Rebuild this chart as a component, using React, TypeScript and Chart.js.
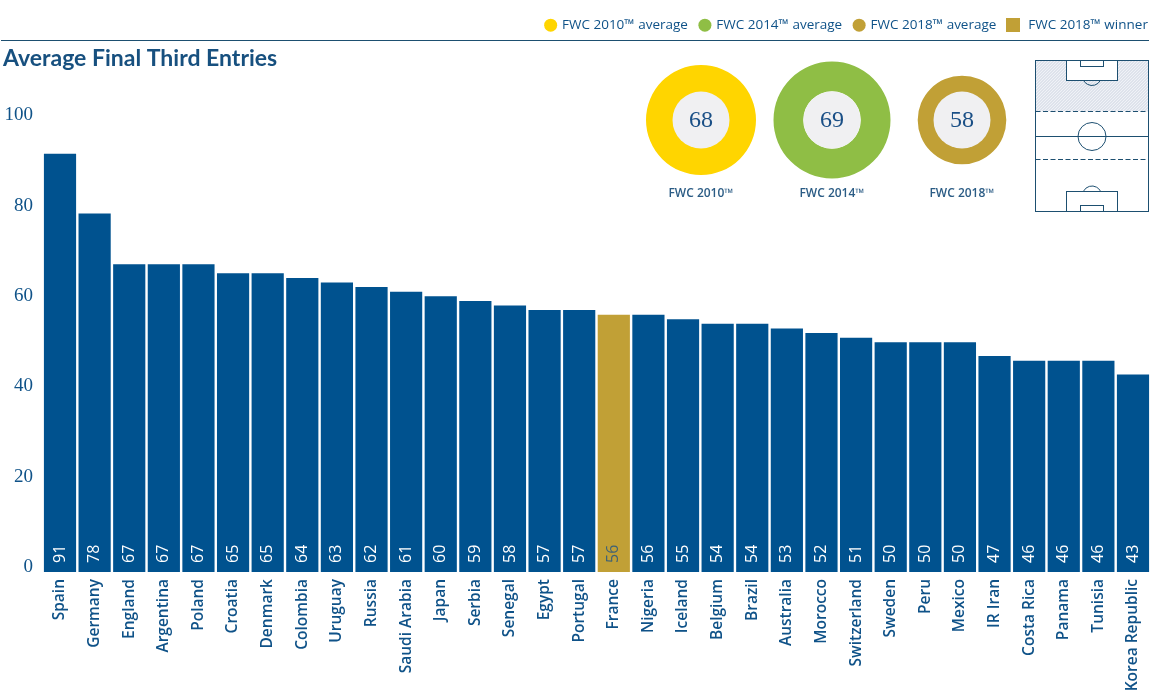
import React, { useEffect, useRef } from 'react';
import Chart from 'chart.js/auto';

const teams = ['Spain', 'Germany', 'England', 'Argentina', 'Poland', 'Croatia', 'Denmark', 'Colombia', 'Uruguay', 'Russia', 'Saudi Arabia', 'Japan', 'Serbia', 'Senegal', 'Egypt', 'Portugal', 'France', 'Nigeria', 'Iceland', 'Belgium', 'Brazil', 'Australia', 'Morocco', 'Switzerland', 'Sweden', 'Peru', 'Mexico', 'IR Iran', 'Costa Rica', 'Panama', 'Tunisia', 'Korea Republic'];
const entries = [91, 78, 67, 67, 67, 65, 65, 64, 63, 62, 61, 60, 59, 58, 57, 57, 56, 56, 55, 54, 54, 53, 52, 51, 50, 50, 50, 47, 46, 46, 46, 43];
const yTicks = [0, 20, 40, 60, 80, 100];
const winner = 'France';

const averageNames = ['FWC 2010™', 'FWC 2014™', 'FWC 2018™'];
const averageValues = [68, 69, 58];
const averageColors = ['#ffd500', '#8fbe45', '#c1a036'];
const ringCenters = [701, 831.5, 962.3];
const ringRadius = [55, 58.5, 44.3];

// the nbsp keeps the wider gap after the square marker
const legendNames = ['FWC 2010™ average', 'FWC 2014™ average', 'FWC 2018™ average', '\u00A0FWC 2018™ winner'];
const legendColors = ['#ffd500', '#8fbe45', '#c1a036', '#c1a036'];

const BLUE = '#00528f';
const GOLD = '#c1a036';
const TEXT = '#0f5288';
const LINE = '#1d4f70';
const SANS = '"Open Sans", sans-serif';
const SERIF = '"Liberation Serif", serif';

function squareMarker(color: string) {
  const c = document.createElement('canvas');
  c.width = 14;
  c.height = 14;
  const g = c.getContext('2d')!;
  g.fillStyle = color;
  g.fillRect(0, 0, 14, 14);
  return c;
}

// header rule, in-bar values and the little pitch
const decorations = {
  id: 'decorations',
  afterLayout(chart: any) {
    // nudge legend and title to where the original has them,
    // the extra pixel stops the last legend item from wrapping
    chart.legend.right += 11;
    chart.legend.lineWidths[0] += 1;
    chart.titleBlock.left += 3;
    chart.titleBlock.right += 3;
  },
  beforeDraw(chart: any) {
    const { ctx } = chart;
    ctx.save();
    ctx.strokeStyle = LINE;
    ctx.lineWidth = 1;
    ctx.beginPath();
    ctx.moveTo(1, 40.5);
    ctx.lineTo(1149, 40.5);
    ctx.stroke();
    ctx.restore();
  },
  afterDatasetsDraw(chart: any) {
    const { ctx } = chart;
    const meta = chart.getDatasetMeta(0);
    ctx.save();
    ctx.font = `500 16px ${SANS}`;
    ctx.textAlign = 'left';
    ctx.textBaseline = 'middle';
    meta.data.forEach((bar: any, i: number) => {
      ctx.save();
      ctx.translate(bar.x, chart.scales.y.getPixelForValue(0) - 9);
      ctx.rotate(-Math.PI / 2);
      ctx.fillStyle = teams[i] === winner ? '#3f6275' : '#ffffff';
      ctx.fillText(String(entries[i]), 0, 0);
      ctx.restore();
    });
    ctx.restore();
    drawPitch(ctx);
  },
};

function drawPitch(ctx: CanvasRenderingContext2D) {
  const l = 1035.5, r = 1148.5, t = 60.5, b = 211.5, mid = 1092;
  ctx.save();
  // hatched attacking third
  ctx.save();
  ctx.beginPath();
  ctx.rect(l, t, r - l, 111.5 - t);
  ctx.clip();
  ctx.fillStyle = '#f0f2f7';
  ctx.fillRect(l, t, r - l, 111.5 - t);
  ctx.strokeStyle = '#c3ccd9';
  ctx.lineWidth = 0.8;
  for (let x = l - 60; x < r + 60; x += 3) {
    ctx.beginPath();
    ctx.moveTo(x, 112);
    ctx.lineTo(x + 52, 60);
    ctx.stroke();
  }
  ctx.restore();
  ctx.strokeStyle = LINE;
  ctx.lineWidth = 1;
  ctx.fillStyle = '#ffffff';
  ctx.fillRect(1066.5, t, 51, 20);
  ctx.strokeRect(l, t, r - l, b - t);
  ctx.strokeRect(1066.5, t, 51, 20);
  ctx.strokeRect(1080.5, t, 23, 6);
  ctx.strokeRect(1066.5, 191.5, 51, 20);
  ctx.strokeRect(1080.5, 205.5, 23, 6);
  ctx.beginPath();
  ctx.moveTo(l, 136.5);
  ctx.lineTo(r, 136.5);
  ctx.stroke();
  ctx.beginPath();
  ctx.arc(mid, 136.5, 14, 0, Math.PI * 2);
  ctx.stroke();
  ctx.beginPath();
  ctx.arc(mid, 76, 9.5, 0.5, Math.PI - 0.5);
  ctx.stroke();
  ctx.beginPath();
  ctx.arc(mid, 195.5, 9.5, Math.PI + 0.5, -0.5);
  ctx.stroke();
  ctx.setLineDash([5, 2.5]);
  [111.5, 159.5].forEach((y) => {
    ctx.beginPath();
    ctx.moveTo(l, y);
    ctx.lineTo(r, y);
    ctx.stroke();
  });
  ctx.restore();
}

// gray disc, value and caption of each ring
const ringText = {
  id: 'ringText',
  afterDraw(chart: any, _args: any, opts: any) {
    const { ctx, chartArea } = chart;
    const cx = (chartArea.left + chartArea.right) / 2;
    const cy = (chartArea.top + chartArea.bottom) / 2;
    ctx.save();
    ctx.fillStyle = '#f0f0f2';
    ctx.beginPath();
    ctx.arc(cx, cy, 28.5, 0, Math.PI * 2);
    ctx.fill();
    ctx.fillStyle = '#1a4f86';
    ctx.font = `24px ${SERIF}`;
    ctx.textAlign = 'center';
    ctx.textBaseline = 'middle';
    ctx.fillText(String(opts.value), cx, cy + 1);
    ctx.font = `600 12px ${SANS}`;
    ctx.fillStyle = '#2b5c85';
    ctx.fillText(opts.name, cx, cy + 74);
    ctx.restore();
  },
};

function Ring({ index }: { index: number }) {
  const ref = useRef<HTMLCanvasElement>(null);

  useEffect(() => {
    if (!ref.current) return;
    const chart = new Chart(ref.current, {
      type: 'doughnut',
      data: {
        labels: [averageNames[index]],
        datasets: [{
          data: [averageValues[index]],
          backgroundColor: averageColors[index],
          borderWidth: 0,
          radius: ringRadius[index],
          cutout: 32,
        }],
      },
      options: {
        responsive: false,
        animation: false,
        layout: { padding: { bottom: 20 } },
        plugins: {
          legend: { display: false },
          tooltip: { enabled: false },
          ringText: { value: averageValues[index], name: averageNames[index] },
        },
      } as any,
      plugins: [ringText],
    });
    return () => chart.destroy();
  }, [index]);

  return (
    <canvas
      ref={ref}
      width={130}
      height={150}
      style={{ position: 'absolute', left: ringCenters[index] - 65, top: 55, width: 130, height: 150 }}
    />
  );
}

export default function App() {
  const ref = useRef<HTMLCanvasElement>(null);

  useEffect(() => {
    document.body.style.margin = '0';
    if (!ref.current) return;
    const chart = new Chart(ref.current, {
      type: 'bar',
      data: {
        labels: teams,
        datasets: [{
          data: entries,
          backgroundColor: teams.map((t) => (t === winner ? GOLD : BLUE)),
          barPercentage: 0.93,
          categoryPercentage: 1,
          yAxisID: 'y',
        }],
      },
      options: {
        responsive: false,
        animation: false,
        layout: { padding: { top: 6, right: 0.7 } },
        scales: {
          x: {
            grid: { display: false, drawTicks: false },
            border: { display: false },
            afterFit: (s: any) => {
              s.height = 128;
              s.paddingLeft = 0;
              s.paddingRight = 0;
            },
            ticks: {
              autoSkip: false,
              minRotation: 90,
              maxRotation: 90,
              padding: 7,
              color: TEXT,
              font: { family: SANS, size: 15.5, weight: '600' },
            },
          },
          y: { display: false, min: 0, max: 100 },
          // tick labels sit a little off the bars' scale in the original
          yLabels: {
            position: 'left',
            min: -1.106,
            max: 100.66,
            grid: { display: false, drawTicks: false },
            border: { display: false },
            afterBuildTicks: (s: any) => { s.ticks = yTicks.map((value) => ({ value })); },
            afterFit: (s: any) => { s.width = 42.7; },
            ticks: {
              padding: 9.7,
              color: TEXT,
              font: { family: SERIF, size: 19 },
            },
          },
        },
        plugins: {
          tooltip: { enabled: false },
          title: {
            display: true,
            text: 'Average Final Third Entries',
            align: 'start',
            color: '#17507f',
            weight: 500,
            font: { family: '"Lato", sans-serif', size: 23, weight: '700' },
            padding: { top: 3, bottom: 40 },
          },
          legend: {
            position: 'top',
            align: 'end',
            onClick: () => {},
            labels: {
              usePointStyle: true,
              boxWidth: 9.2,
              boxHeight: 9.2,
              padding: 12.4,
              color: TEXT,
              font: { family: SANS, size: 13.5 },
              generateLabels: () => legendNames.map((text, i) => ({
                text,
                fillStyle: legendColors[i],
                strokeStyle: legendColors[i],
                lineWidth: 0,
                pointStyle: i === 3 ? squareMarker(legendColors[i]) : 'circle',
                fontColor: TEXT,
              })),
            },
          },
        },
      } as any,
      plugins: [decorations],
    });
    return () => chart.destroy();
  }, []);

  return (
    <div style={{ position: 'relative', width: 1151, height: 700 }}>
      <canvas ref={ref} width={1151} height={700} style={{ display: 'block', width: 1151, height: 700 }} />
      {averageValues.map((_, i) => <Ring key={averageNames[i]} index={i} />)}
    </div>
  );
}
